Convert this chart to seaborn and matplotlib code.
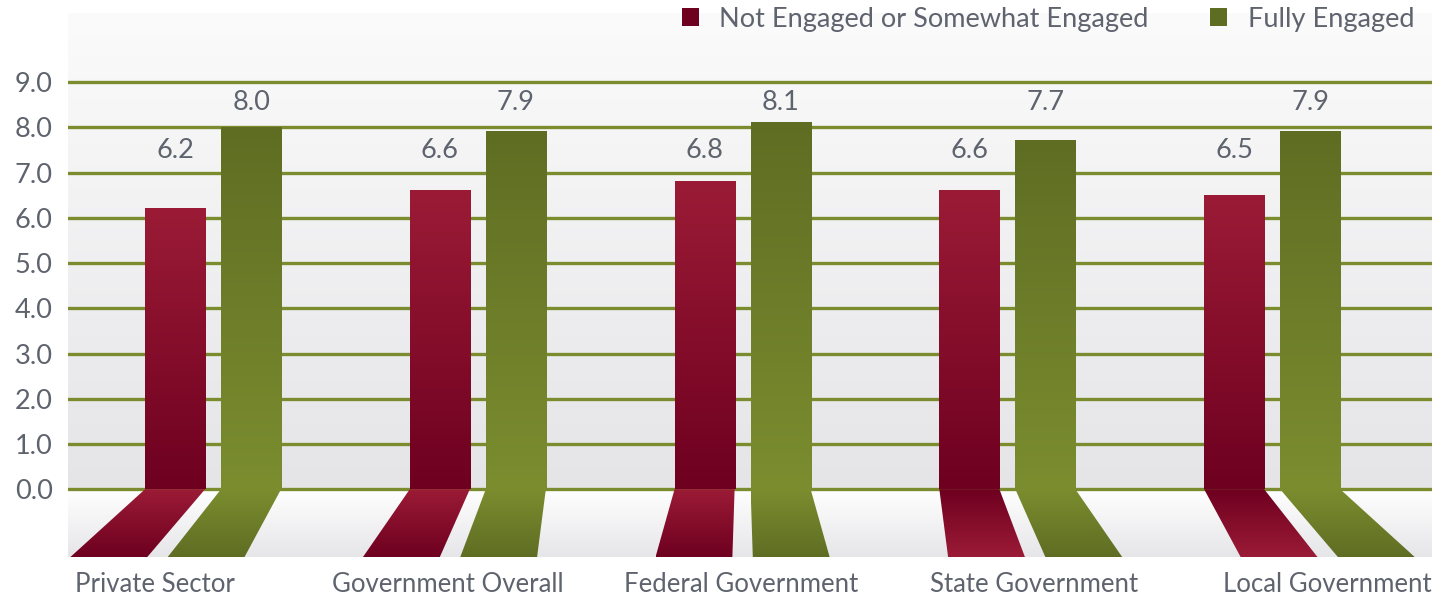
import numpy as np
import pandas as pd
import matplotlib
matplotlib.use("Agg")
import matplotlib.pyplot as plt
import seaborn as sns
from matplotlib.colors import LinearSegmentedColormap
from matplotlib.patches import Polygon, Patch

# ---- data -------------------------------------------------------------
categories = ["Private Sector", "Government Overall", "Federal Government",
              "State Government", "Local Government"]
not_engaged = [6.2, 6.6, 6.8, 6.6, 6.5]
fully_engaged = [8.0, 7.9, 8.1, 7.7, 7.9]
series = ["Not Engaged or Somewhat Engaged", "Fully Engaged"]
y_ticks = [0, 1, 2, 3, 4, 5, 6, 7, 8, 9]

df = pd.DataFrame({
    "category": categories * 2,
    "score": not_engaged + fully_engaged,
    "group": [series[0]] * len(categories) + [series[1]] * len(categories),
})

# ---- style ------------------------------------------------------------
sns.set_theme(style="white")
plt.rcParams["font.family"] = ["Lato", "DejaVu Sans"]
TEXT = "#5e636e"
GRID = "#7a8c2e"
RED_DARK, RED_LIGHT = "#6e0020", "#9b1b36"
GRN_DARK, GRN_LIGHT = "#5f6d23", "#7b8d2f"
FS = 19.5

W, H = 1446, 598
fig = plt.figure(figsize=(W / 100, H / 100), dpi=100)
ax = fig.add_axes([68 / W, 41 / H, 1364 / W, 544 / H])

YMIN, YMAX = -1.5, 10.53
XMIN, XMAX = -0.548, 4.604

sns.barplot(data=df, x="category", y="score", hue="group",
            palette=[RED_DARK, GRN_DARK], width=0.574, gap=0.21,
            saturation=1, legend=False, ax=ax, zorder=3)


def vgrad(c_bottom, c_top, n=256):
    cmap = LinearSegmentedColormap.from_list("g", [c_bottom, c_top])
    return cmap(np.linspace(0, 1, n))[:, None, :]


# background panels: wall above zero, floor below zero
ax.imshow(vgrad("#e5e5e8", "#fbfbfb"), extent=[XMIN, XMAX, 0, YMAX],
          origin="lower", aspect="auto", zorder=0, interpolation="bicubic")
ax.imshow(vgrad("#e6e6e9", "#ffffff"), extent=[XMIN, XMAX, YMIN, 0],
          origin="lower", aspect="auto", zorder=0, interpolation="bicubic")

# gradient bars and their perspective floor strips
bar_colors = [(RED_DARK, RED_LIGHT), (GRN_LIGHT, GRN_DARK)]
floor_colors = [(RED_DARK, RED_LIGHT), (GRN_DARK, GRN_LIGHT)]
spread = 1.28
for s_idx, container in enumerate(ax.containers):
    for i, patch in enumerate(container.patches):
        x0 = patch.get_x()
        w = patch.get_width()
        h = patch.get_height()
        x1 = x0 + w
        patch.set_facecolor("none")
        patch.set_edgecolor("none")
        lo, hi = bar_colors[s_idx]
        ax.imshow(vgrad(lo, hi), extent=[x0, x1, 0, h], origin="lower",
                  aspect="auto", zorder=3, interpolation="bicubic")

        shift = 0.105 * (i - 2)
        bx0 = i + shift + (x0 - i) * spread
        bx1 = i + shift + (x1 - i) * spread
        poly = Polygon([(x0, 0), (x1, 0), (bx1, YMIN), (bx0, YMIN)],
                       closed=True, facecolor="none", edgecolor="none")
        ax.add_patch(poly)
        f_bottom, f_top = floor_colors[s_idx]
        if s_idx == 0 and shift > 0:
            f_bottom, f_top = f_top, f_bottom
        img = ax.imshow(vgrad(f_bottom, f_top),
                        extent=[min(x0, bx0), max(x1, bx1), YMIN, 0],
                        origin="lower", aspect="auto", zorder=3,
                        interpolation="bicubic")
        img.set_clip_path(poly)

# value labels in one row per series
rows = [max(not_engaged) + 0.7, max(fully_engaged) + 0.45]
for s_idx, (container, vals) in enumerate(zip(ax.containers,
                                              [not_engaged, fully_engaged])):
    for patch, v in zip(container.patches, vals):
        cx = patch.get_x() + patch.get_width() / 2
        ax.text(cx, rows[s_idx], f"{v:.1f}", ha="center", va="center",
                fontsize=FS, color=TEXT, zorder=5)

# grid lines
for t in y_ticks:
    ax.axhline(t, color=GRID, lw=2.4, zorder=1)

ax.set_xlim(XMIN, XMAX)
ax.set_ylim(YMIN, YMAX)
ax.set_yticks(y_ticks, labels=[f"{t:.1f}" for t in y_ticks])
ax.set_xticks(np.linspace(-0.22, 4.21, len(categories)), labels=categories)
ax.tick_params(axis="y", length=0, pad=11, labelsize=FS, labelcolor=TEXT)
ax.tick_params(axis="x", length=0, pad=11, labelsize=18.5, labelcolor=TEXT)
ax.set_xlabel("")
ax.set_ylabel("")
for sp in ax.spines.values():
    sp.set_visible(False)

handles = [Patch(facecolor=RED_DARK, edgecolor="none"),
           Patch(facecolor=GRN_DARK, edgecolor="none")]
fig.legend(handles, series, loc="center right",
           bbox_to_anchor=(1414 / W, 1 - 19 / H), ncol=2, frameon=False,
           fontsize=FS, handlelength=0.63, handleheight=0.63,
           handletextpad=0.74, columnspacing=2.3, borderpad=0,
           borderaxespad=0, labelcolor=TEXT)

fig.savefig("out.png", dpi=100)
